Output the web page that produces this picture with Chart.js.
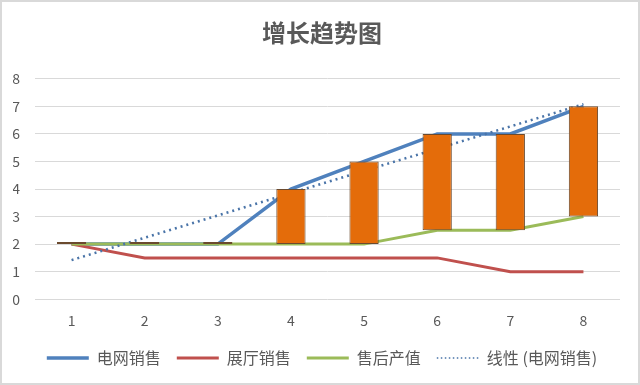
<!DOCTYPE html>
<html>
<head>
<meta charset="utf-8">
<script src="https://cdn.jsdelivr.net/npm/chart.js@4.4.1/dist/chart.umd.min.js"></script>
<style>
    body { margin: 0; background: #fff; }
    #wrap { width: 640px; height: 385px; box-sizing: border-box; border: 2px solid #d9d9d9; }
</style>
</head>
<body>
<div id="wrap"><canvas id="trendChart"></canvas></div>
<script>
// values
const categories = ['1', '2', '3', '4', '5', '6', '7', '8'];
const gridSales = [2, 2, 2, 4, 5, 6, 6, 7];          // 电网销售
const showroomSales = [2, 1.5, 1.5, 1.5, 1.5, 1.5, 1, 1]; // 展厅销售
const afterSales = [2, 2, 2, 2, 2, 2.5, 2.5, 3];     // 售后产值
const gridTrend = [1.42, 2.23, 3.04, 3.85, 4.66, 5.46, 6.27, 7.08]; // 线性 (电网销售)
const yTicks = [0, 1, 2, 3, 4, 5, 6, 7, 8];

const FONT = '"Noto Sans CJK SC", "Noto Sans", sans-serif';

document.addEventListener('DOMContentLoaded', function () {
    const ctx = document.getElementById('trendChart').getContext('2d');

    // up-down bars between 售后产值 and 电网销售
    const upDown = gridSales.map((v, i) => [afterSales[i], v]);

    new Chart(ctx, {
        data: {
            labels: categories,
            datasets: [
                {
                    type: 'line',
                    label: '电网销售',
                    data: gridSales,
                    borderColor: '#4F81BD',
                    backgroundColor: '#4F81BD',
                    borderWidth: 3.5,
                    pointRadius: 0,
                    order: 4
                },
                {
                    type: 'line',
                    label: '展厅销售',
                    data: showroomSales,
                    borderColor: '#C0504D',
                    backgroundColor: '#C0504D',
                    borderWidth: 3,
                    pointRadius: 0,
                    order: 3
                },
                {
                    type: 'line',
                    label: '售后产值',
                    data: afterSales,
                    borderColor: '#9BBB59',
                    backgroundColor: '#9BBB59',
                    borderWidth: 3,
                    pointRadius: 0,
                    order: 2
                },
                {
                    type: 'line',
                    label: '线性 (电网销售)',
                    data: gridTrend,
                    borderColor: '#4A74A8',
                    backgroundColor: '#4A74A8',
                    borderWidth: 2.5,
                    borderDash: [2, 4],
                    borderCapStyle: 'butt',
                    pointRadius: 0,
                    order: 1
                },
                {
                    type: 'bar',
                    label: 'updown',
                    data: upDown,
                    backgroundColor: '#E46C0A',
                    borderColor: '#6B4A2E',
                    borderWidth: 1,
                    borderSkipped: false,
                    minBarLength: 2,
                    categoryPercentage: 1,
                    barPercentage: 0.4,
                    order: 0
                }
            ]
        },
        options: {
            responsive: true,
            maintainAspectRatio: false,
            animation: false,
            layout: { padding: { left: 11, right: 7, top: 4, bottom: 7 } },
            plugins: {
                title: {
                    display: true,
                    text: '增长趋势图',
                    color: '#595959',
                    font: { family: FONT, size: 24, weight: 'bold' },
                    padding: { top: 12, bottom: 32 }
                },
                legend: {
                    position: 'bottom',
                    labels: {
                        usePointStyle: true,
                        pointStyle: 'line',
                        pointStyleWidth: 42,
                        color: '#595959',
                        font: { family: FONT, size: 16 },
                        padding: 16,
                        filter: item => item.text !== 'updown',
                        sort: (a, b) => a.datasetIndex - b.datasetIndex,
                        generateLabels: chart => {
                            const items = Chart.defaults.plugins.legend.labels.generateLabels(chart);
                            items.forEach(item => {
                                if (item.text.startsWith('线性')) {
                                    item.lineDash = [1.5, 2.5];
                                    item.lineWidth = 1.5;
                                }
                            });
                            return items;
                        }
                    }
                },
                tooltip: { enabled: false }
            },
            scales: {
                x: {
                    grid: { display: false },
                    border: { display: false },
                    ticks: {
                        color: '#595959',
                        font: { family: FONT, size: 14 },
                        padding: 5
                    }
                },
                y: {
                    min: 0,
                    max: 8,
                    afterBuildTicks: axis => {
                        axis.ticks = yTicks.map(v => ({ value: v }));
                    },
                    afterFit: axis => { axis.width = 22; },
                    grid: { color: '#d9d9d9', drawTicks: false },
                    border: { display: false },
                    ticks: {
                        color: '#595959',
                        font: { family: FONT, size: 14 },
                        padding: 15
                    }
                },
                // empty right axis, only keeps the plot's right edge in place
                yRight: {
                    position: 'right',
                    min: 0,
                    max: 8,
                    afterFit: axis => { axis.width = 11; },
                    grid: { display: false },
                    border: { display: false },
                    ticks: { display: false }
                }
            }
        }
    });
});
</script>
</body>
</html>
